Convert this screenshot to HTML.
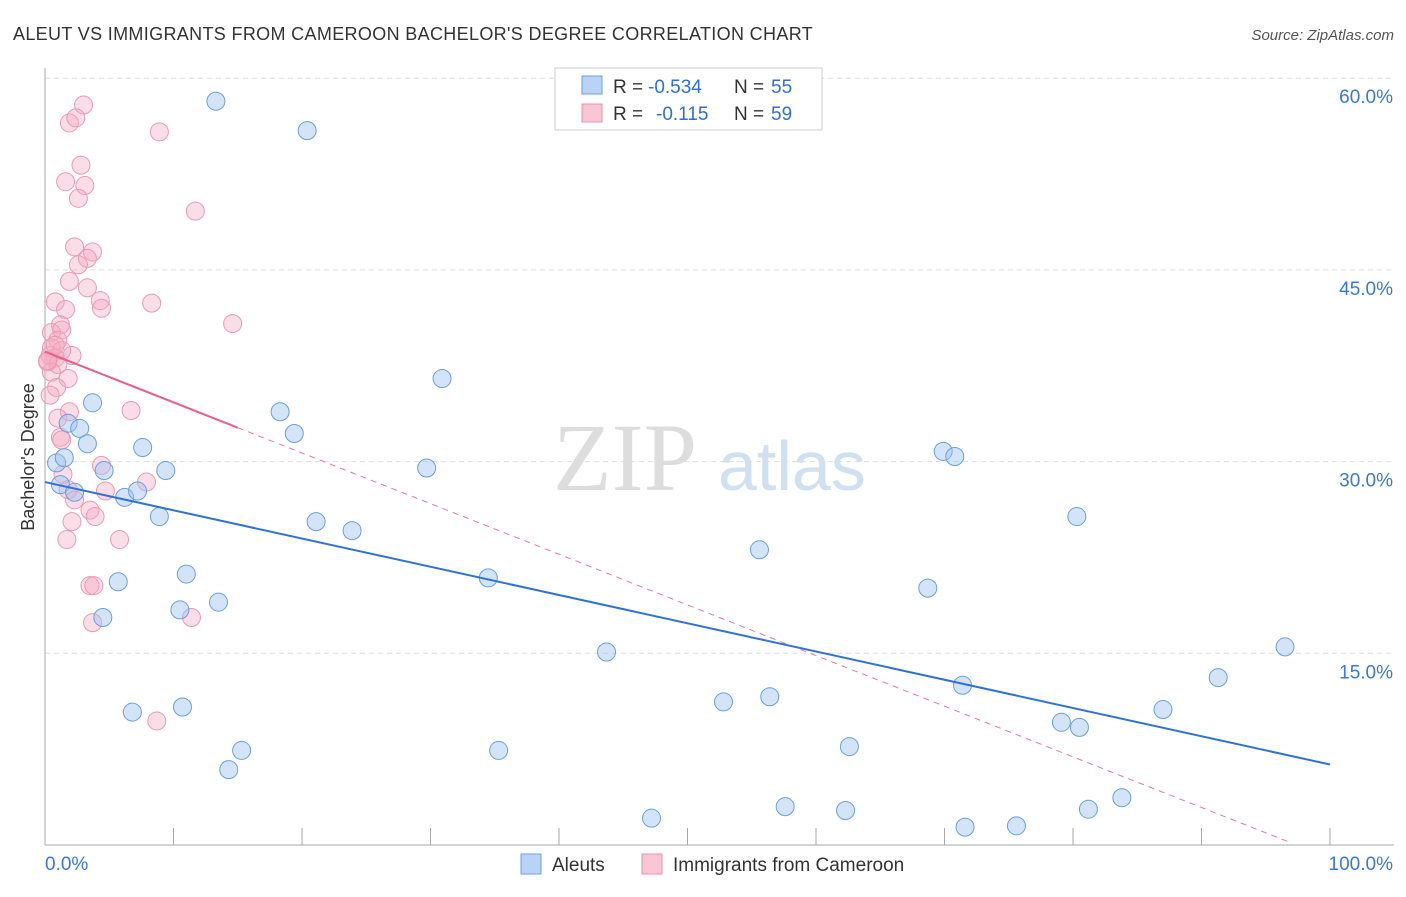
<!DOCTYPE html>
<html><head><meta charset="utf-8"><style>
body{margin:0;background:#fff;font-family:"Liberation Sans",sans-serif;}
</style></head><body>
<svg id="c" width="1406" height="892" xmlns="http://www.w3.org/2000/svg" font-family="Liberation Sans, sans-serif">
<text x="13" y="40" font-size="18" fill="#333" letter-spacing="0.3" textLength="800">ALEUT VS IMMIGRANTS FROM CAMEROON BACHELOR'S DEGREE CORRELATION CHART</text>
<text x="1394" y="40" font-size="15" fill="#555" font-style="italic" text-anchor="end">Source: ZipAtlas.com</text>
<text x="553" y="490" font-size="96" fill="#ddd" style="font-family:'Liberation Serif',serif">ZIP</text>
<text x="718" y="490" font-size="70" fill="#cfe0f3">atlas</text>
<text x="34" y="457" font-size="18" fill="#333" text-anchor="middle" transform="rotate(-90 34 457)">Bachelor's Degree</text>
<g id="grid"></g><g id="marks"></g>
<g>
<rect x="555" y="68" width="267" height="62" fill="#fff" stroke="#ccc"/>
<rect x="582" y="76" width="20" height="18" fill="#b8d3f5" stroke="#6a9fe0"/>
<rect x="582" y="104" width="20" height="18" fill="#f9c6d5" stroke="#e890aa"/>
<text y="93" font-size="19" fill="#333"><tspan x="613">R =</tspan><tspan x="648" fill="#2f6fd6">-0.534</tspan><tspan x="734">N =</tspan><tspan x="771" fill="#2f6fd6">55</tspan></text>
<text y="120" font-size="19" fill="#333"><tspan x="613">R =</tspan><tspan x="656" fill="#2f6fd6">-0.115</tspan><tspan x="734">N =</tspan><tspan x="771" fill="#2f6fd6">59</tspan></text>
</g>
<g>
<rect x="521" y="854" width="20" height="20" fill="#b8d3f5" stroke="#6a9fe0"/>
<text x="552" y="871" font-size="19" fill="#333">Aleuts</text>
<rect x="642" y="854" width="20" height="20" fill="#f9c6d5" stroke="#e890aa"/>
<text x="673" y="871" font-size="19" fill="#333">Immigrants from Cameroon</text>
</g>
</svg>
<script>
const yTicks=[15,30,45,60];
const yTickLabels=["15.0%","30.0%","45.0%","60.0%"];
const xTickLabels=["0.0%","100.0%"];
const aleutX=[13.3,20.4,30.9,3.7,18.3,19.4,1.8,2.7,3.3,7.6,0.9,4.6,9.4,1.2,2.3,6.2,7.2,8.9,21.1,23.9,29.7,69.9,70.8,80.3,55.6,34.5,5.7,11.0,68.7,10.5,13.5,4.5,43.7,96.5,91.3,71.4,56.4,52.8,6.8,10.7,87.0,79.1,80.5,15.3,35.3,62.6,14.3,83.8,57.6,81.2,62.3,47.2,71.6,75.6,1.5];
const aleutY=[58.2,55.9,36.5,34.6,33.9,32.2,33.0,32.6,31.4,31.1,29.9,29.3,29.3,28.2,27.6,27.2,27.7,25.7,25.3,24.6,29.5,30.8,30.4,25.7,23.1,20.9,20.6,21.2,20.1,18.4,19.0,17.8,15.1,15.5,13.1,12.5,11.6,11.2,10.4,10.8,10.6,9.6,9.2,7.4,7.4,7.7,5.9,3.7,3.0,2.8,2.7,2.1,1.4,1.5,30.3];
const camX=[3.0,1.9,2.4,8.9,2.8,1.6,3.1,2.6,11.7,2.3,3.7,3.3,2.6,1.9,3.3,0.8,8.3,4.3,4.4,1.6,14.6,1.2,0.5,1.3,1.0,0.5,0.4,0.8,2.1,0.2,1.0,0.5,1.8,0.9,0.4,6.7,1.9,1.0,1.2,1.3,4.4,1.4,7.9,1.8,4.7,2.3,3.5,3.9,2.1,1.7,5.8,3.5,3.8,11.4,3.7,8.7,1.3,0.8,0.2];
const camY=[57.9,56.5,56.9,55.8,53.2,51.9,51.6,50.6,49.6,46.8,46.4,45.9,45.4,44.1,43.6,42.5,42.4,42.6,42.0,41.9,40.8,40.7,40.1,40.3,39.5,38.9,38.3,38.1,38.3,37.8,37.6,37.0,36.5,35.8,35.2,34.0,33.9,33.4,31.9,31.7,29.7,29.0,28.4,27.8,27.7,27.0,26.2,25.7,25.3,23.9,23.9,20.3,20.3,17.8,17.4,9.7,38.7,39.1,37.9];
const aleutTrend=[28.4,6.3];
const camTrend=[38.6,0.2];
const camTrendEnd=96.9, camSolidEnd=15;
const NS="http://www.w3.org/2000/svg";
const X=v=>45+v*12.85, Y=v=>845-v*12.78;
function mk(t,a,p){const e=document.createElementNS(NS,t);for(const k in a)e.setAttribute(k,a[k]);p.appendChild(e);return e;}
const g=document.getElementById('grid'), m=document.getElementById('marks');
yTicks.forEach((t,i)=>{
 const l=mk('line',{x1:45,x2:1394,y1:Y(t),y2:Y(t),stroke:'#ddd','stroke-dasharray':'5,4'},g);
 
 
 const tx=mk('text',{x:1393,y:Y(t)+25,'font-size':19,fill:'#3b78d8','text-anchor':'end'},g);tx.textContent=yTickLabels[i];
 
 
});
let ax=mk('line',{x1:45,x2:45,y1:68,y2:845,stroke:'#aaa'},g);


ax=mk('line',{x1:45,x2:1394,y1:845,y2:845,stroke:'#aaa'},g);


for(let i=1;i<=10;i++){const t=mk('line',{x1:X(i*10),x2:X(i*10),y1:828,y2:845,stroke:'#aaa'},g);
 
 }
let t0=mk('text',{x:45,y:870,'font-size':19,fill:'#3b78d8'},g);t0.textContent=xTickLabels[0];


let t1=mk('text',{x:1393,y:870,'font-size':19,fill:'#3b78d8','text-anchor':'end'},g);t1.textContent=xTickLabels[1];


camX.forEach((x,i)=>{const c=mk('circle',{cx:X(x),cy:Y(camY[i]),r:9,fill:'rgba(245,170,195,0.4)',stroke:'#eb9ab3','stroke-width':1},m);
 
 });
aleutX.forEach((x,i)=>{const c=mk('circle',{cx:X(x),cy:Y(aleutY[i]),r:9,fill:'rgba(160,195,240,0.45)',stroke:'#6a9fe0','stroke-width':1},m);
 
 });
const cy=x=>camTrend[0]+(camTrend[1]-camTrend[0])*x/camTrendEnd;
let l=mk('line',{x1:X(camSolidEnd),y1:Y(cy(camSolidEnd)),x2:X(camTrendEnd),y2:Y(camTrend[1]),stroke:'#e8799c','stroke-width':1,'stroke-dasharray':'6,5'},m);


l=mk('line',{x1:X(0),y1:Y(camTrend[0]),x2:X(camSolidEnd),y2:Y(cy(camSolidEnd)),stroke:'#e8608a','stroke-width':2},m);


l=mk('line',{x1:X(0),y1:Y(aleutTrend[0]),x2:X(100),y2:Y(aleutTrend[1]),stroke:'#2f72d8','stroke-width':2},m);


</script>
</body></html>
